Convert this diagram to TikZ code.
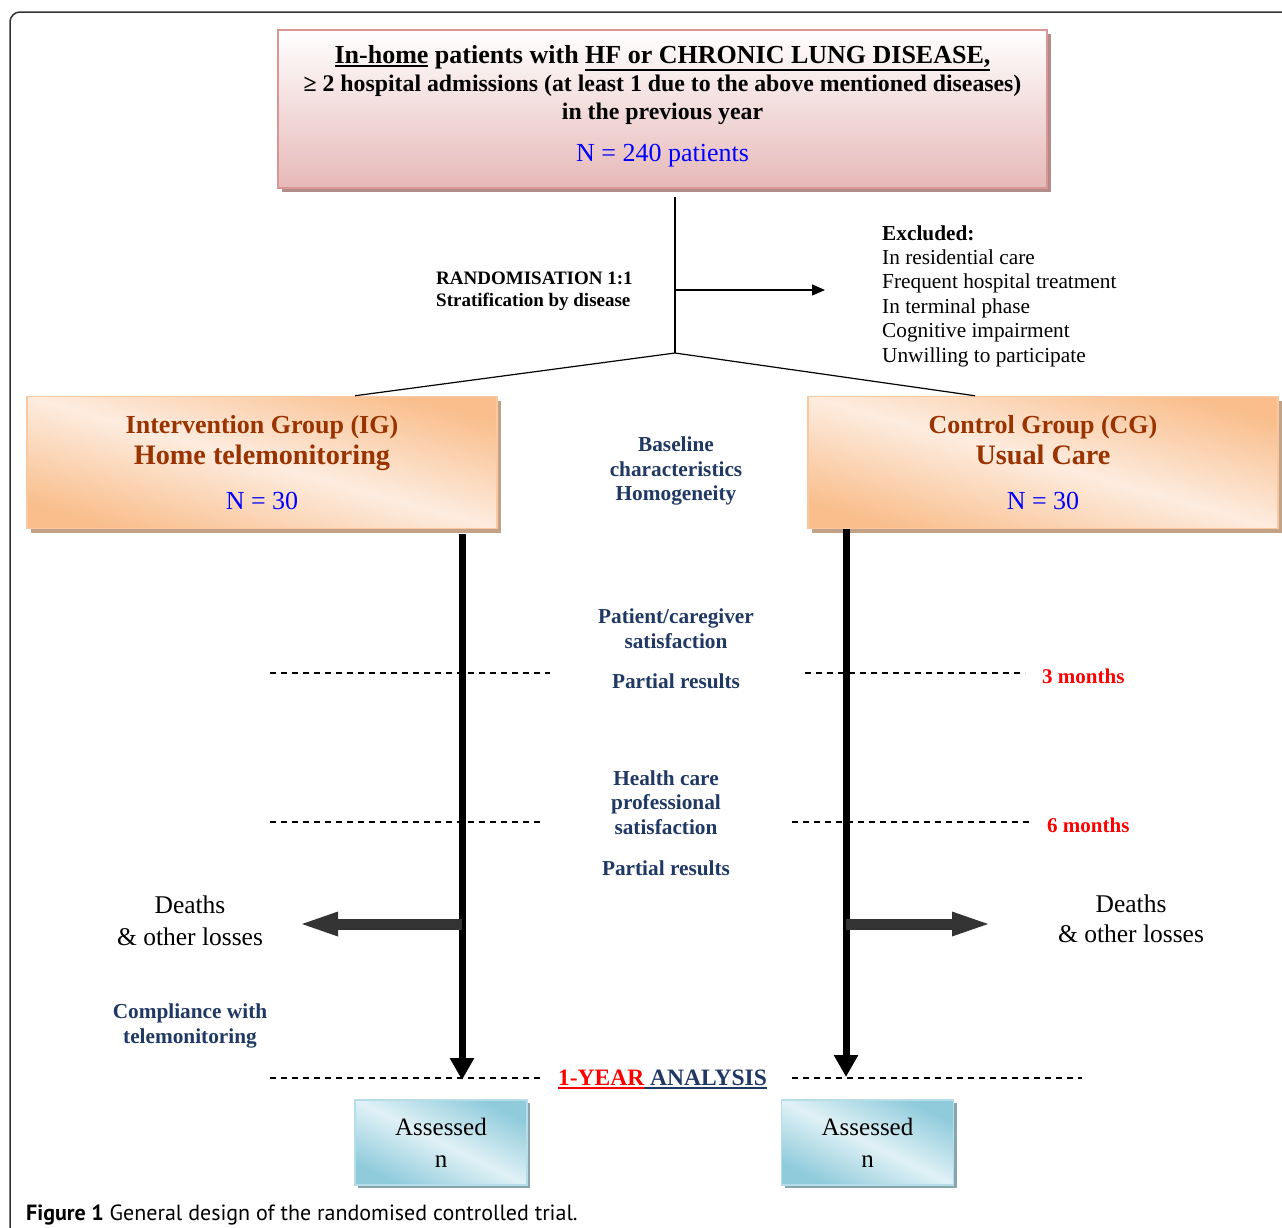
\documentclass[tikz,border=0pt]{standalone}
\usepackage{fontspec}
\setmainfont{Liberation Serif}
\newfontfamily\capfont{PT Sans}
\usetikzlibrary{positioning,arrows.meta,shadows}

\definecolor{pinkline}{HTML}{D99694}
\definecolor{pinkfill}{HTML}{E6B9B8}
\definecolor{orangefill}{HTML}{F9BE8C}
\definecolor{orangelight}{HTML}{FDECDF}
\definecolor{orangeline}{HTML}{FAC8A0}
\definecolor{bluefill}{HTML}{8FCBDB}
\definecolor{bluelight}{HTML}{E0F1F6}
\definecolor{blueline}{HTML}{B7DEE8}
\definecolor{groupbrown}{HTML}{993300}
\definecolor{navy}{HTML}{1F3864}
\definecolor{framegray}{HTML}{333333}

% thicker underline than \underline gives
\newcommand{\barred}[1]{\vtop{\hbox{#1}\kern1.5pt\hrule height 2pt}}

\begin{document}
\begin{tikzpicture}[x=1pt,y=-1pt,
  panel/.style={rectangle,align=center,inner sep=0pt},
  pinkbox/.style={panel,draw=pinkline,line width=1.5pt,top color=white,bottom color=pinkfill,
    drop shadow={shadow xshift=4pt,shadow yshift=-4pt,fill=pinkline!55!gray,opacity=1}},
  groupbox/.style={panel,draw=orangeline,line width=1.5pt,left color=orangefill,right color=orangefill,
    middle color=orangelight,shading angle=-15.7,minimum width=470pt,minimum height=132pt,
    font=\fontsize{26}{30.5}\selectfont\bfseries,text=groupbrown,
    drop shadow={shadow xshift=4pt,shadow yshift=-4pt,fill=orangefill!55!gray,opacity=1}},
  endbox/.style={panel,draw=blueline,line width=1.5pt,left color=bluefill,right color=bluefill,
    middle color=bluelight,shading angle=-26.3,minimum width=172pt,minimum height=85pt,
    font=\fontsize{25}{32}\selectfont,
    drop shadow={shadow xshift=3pt,shadow yshift=-3pt,fill=bluefill!50!gray,opacity=1}},
  lbl/.style={inner sep=0pt,align=center,font=\fontsize{21.3}{24.5}\selectfont\bfseries,text=navy},
  month/.style={inner sep=0pt,anchor=base west,font=\fontsize{21}{24}\selectfont\bfseries,text=red},
  flow/.style={line width=7pt,-{Triangle[width=23pt,length=22pt]}},
  loss/.style={line width=11pt,black!80,-{Triangle[width=21pt,length=41pt]}},
  timeline/.style={line width=1.2pt,dash pattern=on 6pt off 5pt}]
\clip (0,0) rectangle (1282,1227);
\draw[framegray,line width=1.5pt,rounded corners=10pt] (10,1250) -- (10,12) -- (1300,12);

\node[pinkbox,minimum width=769pt,minimum height=158pt,font=\fontsize{26}{28}\selectfont\bfseries] (patients) at (662.5,109)
  {\barred{In-home} patients with \barred{HF or CHRONIC LUNG DISEASE,}\\
   {\fontsize{23.8}{28}\selectfont ≥ 2 hospital admissions (at least 1 due to the above mentioned diseases)}\\
   {\fontsize{23.8}{28}\selectfont in the previous year}\\[14.5pt]
   {\mdseries\color{blue}N = 240 patients\rule[-11pt]{0pt}{0pt}}};

\coordinate (fork) at (675,353);
\coordinate (split) at (675,290);
\node[inner sep=0pt,align=left,anchor=west,font=\fontsize{19}{22}\selectfont\bfseries] (random) at (436,291)
  {RANDOMISATION 1:1\\Stratification by disease};
\node[inner sep=0pt,align=left,anchor=west,font=\fontsize{21.3}{24.4}\selectfont] (excluded) at (882,296)
  {\textbf{Excluded:}\\In residential care\\Frequent hospital treatment\\In terminal phase\\Cognitive impairment\\Unwilling to participate};

\node[groupbox] (ig) at (262,462.5)
  {Intervention Group (IG)\\{\fontsize{28.2}{30.5}\selectfont Home telemonitoring}\\[14.5pt]{\mdseries\color{blue}N = 30}};
\node[groupbox] (cg) at (1043,462.5)
  {Control Group (CG)\\{\fontsize{28.2}{30.5}\selectfont Usual Care}\\[14.5pt]{\mdseries\color{blue}N = 30}};

\draw[line width=1.2pt,shorten <=8pt] (patients.south -| fork) -- (fork);
\draw[line width=1.2pt,shorten >=57pt,-{Triangle[width=11pt,length=13pt]}] (split) -- (split -| excluded.west);
\draw[line width=1.2pt] (fork) -- ([xshift=93pt]ig.north);
\draw[line width=1.2pt] (fork) -- ([xshift=-68pt]cg.north);

\node[lbl] (baseline) at (676,471) {Baseline\\characteristics\\Homogeneity};
\node[lbl] (patsat) at (676,649) {Patient/caregiver\\satisfaction\\[16pt]Partial results};
\node[lbl] (hcsat) at (666,823) {Health care\\professional\\satisfaction\\[16.5pt]Partial results};

\draw[timeline] (270,673) -- (550,673) (805,673) -- (1025,673);
\node[month] (m3) at (1042,683) {3 months};
\draw[timeline] (270,822) -- (540,822) (792,822) -- (1030,822);
\node[month] (m6) at (1047,832) {6 months};
\draw[timeline] (270,1078) -- (540,1078) (792,1078) -- (1082,1078);
\node[inner sep=0pt,anchor=base,font=\fontsize{23.5}{26}\selectfont\bfseries] (year) at (662.5,1085)
  {{\color{red}\barred{1-YEAR}}{\color{navy}\barred{ ANALYSIS}}};

\coordinate (igend) at (462,1080);
\coordinate (cgend) at (846,1077);
\draw[flow,shorten <=5pt] (ig.south -| igend) -- (igend);
\draw[flow] (cg.south -| cgend) -- (cgend);

\node[inner sep=0pt,align=center,font=\fontsize{25.5}{32}\selectfont] (lossig) at (190,921) {Deaths\\\& other losses};
\node[inner sep=0pt,align=center,font=\fontsize{25.5}{30}\selectfont] (losscg) at (1131,919) {Deaths\\\& other losses};
\coordinate (igtip) at (297,924);
\coordinate (cgtip) at (993,924);
\draw[loss] (igend |- igtip) -- (igtip);
\draw[loss] (cgend |- cgtip) -- (cgtip);

\node[lbl,font=\fontsize{21.3}{25}\selectfont\bfseries] (comply) at (190,1025.6) {Compliance with\\telemonitoring};

\node[endbox] (igout) at (441,1142.5) {Assessed\\n};
\node[endbox] (cgout) at (867.5,1142.5) {Assessed\\n};

\node[inner sep=0pt,anchor=base west,font=\capfont\fontsize{22}{26}\selectfont] (caption) at (26,1220)
  {\textbf{Figure 1} General design of the randomised controlled trial.};
\end{tikzpicture}
\end{document}
